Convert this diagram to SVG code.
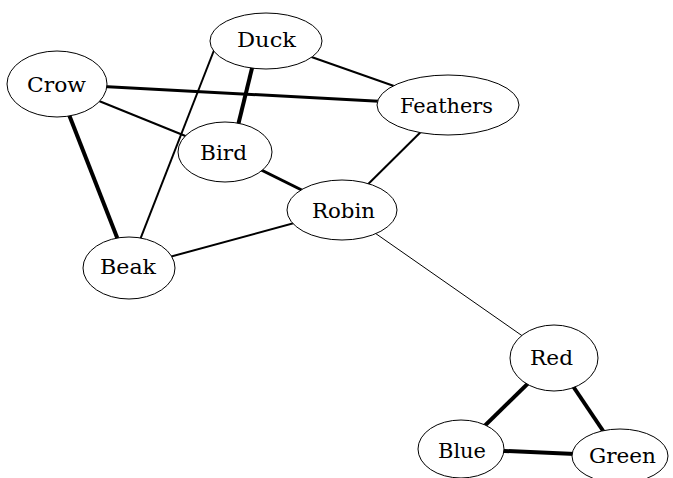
<svg xmlns="http://www.w3.org/2000/svg" width="673" height="478" viewBox="0 0 673 478">
  <style>
    .node ellipse { fill: #fff; stroke: #000; stroke-width: 1; }
    .node text { font-family: "DejaVu Serif", "Liberation Serif", serif; font-size: 21px; fill: #000; }
    #edges line { stroke: #000; stroke-linecap: butt; }
    .w1 { stroke-width: 1; }
    .w2 { stroke-width: 2; }
    .w3 { stroke-width: 3; }
    .w4 { stroke-width: 4; }
  </style>
  <rect width="673" height="478" fill="#fff"/>

  <!-- connectors, drawn under the nodes -->
  <g id="edges">
    <line class="w3" x1="57" y1="84" x2="448" y2="105"/>   <!-- Crow - Feathers -->
    <line class="w2" x1="57" y1="84" x2="225" y2="152"/>   <!-- Crow - Bird -->
    <line class="w4" x1="57" y1="84" x2="129" y2="268"/>   <!-- Crow - Beak -->
    <line class="w2" x1="218" y1="40" x2="129" y2="268"/>  <!-- Duck - Beak -->
    <line class="w4" x1="254" y1="60" x2="232" y2="150"/>  <!-- Duck - Bird -->
    <line class="w2" x1="266" y1="41" x2="448" y2="105"/>  <!-- Duck - Feathers -->
    <line class="w2" x1="448" y1="105" x2="342" y2="210"/> <!-- Feathers - Robin -->
    <line class="w3" x1="225" y1="152" x2="342" y2="210"/> <!-- Bird - Robin -->
    <line class="w2" x1="129" y1="268" x2="342" y2="210"/> <!-- Beak - Robin -->
    <line class="w1" x1="342" y1="210" x2="554" y2="358"/> <!-- Robin - Red -->
    <line class="w4" x1="554" y1="358" x2="461" y2="449"/> <!-- Red - Blue -->
    <line class="w4" x1="554" y1="358" x2="620" y2="456"/> <!-- Red - Green -->
    <line class="w4" x1="461" y1="449" x2="620" y2="456"/> <!-- Blue - Green -->
  </g>

  <g id="node-duck" class="node">
    <ellipse cx="266" cy="41" rx="56" ry="28"/>
    <text x="237" y="47" textLength="59" lengthAdjust="spacingAndGlyphs">Duck</text>
  </g>
  <g id="node-crow" class="node">
    <ellipse cx="57" cy="84" rx="50" ry="33"/>
    <text x="27" y="92" textLength="59" lengthAdjust="spacingAndGlyphs">Crow</text>
  </g>
  <g id="node-feathers" class="node">
    <ellipse cx="448" cy="105" rx="71" ry="30"/>
    <text x="400" y="113" textLength="93" lengthAdjust="spacingAndGlyphs">Feathers</text>
  </g>
  <g id="node-bird" class="node">
    <ellipse cx="225" cy="152" rx="47" ry="30"/>
    <text x="200" y="160" textLength="47" lengthAdjust="spacingAndGlyphs">Bird</text>
  </g>
  <g id="node-robin" class="node">
    <ellipse cx="342" cy="210" rx="55" ry="30"/>
    <text x="312" y="218" textLength="63" lengthAdjust="spacingAndGlyphs">Robin</text>
  </g>
  <g id="node-beak" class="node">
    <ellipse cx="129" cy="268" rx="46" ry="31"/>
    <text x="100" y="274" textLength="56" lengthAdjust="spacingAndGlyphs">Beak</text>
  </g>
  <g id="node-red" class="node">
    <ellipse cx="554" cy="358" rx="44" ry="33"/>
    <text x="530" y="365" textLength="43" lengthAdjust="spacingAndGlyphs">Red</text>
  </g>
  <g id="node-blue" class="node">
    <ellipse cx="461" cy="449" rx="43" ry="29"/>
    <text x="438" y="458" textLength="48" lengthAdjust="spacingAndGlyphs">Blue</text>
  </g>
  <g id="node-green" class="node">
    <ellipse cx="620" cy="456" rx="48" ry="27"/>
    <text x="589" y="463" textLength="67" lengthAdjust="spacingAndGlyphs">Green</text>
  </g>
</svg>
